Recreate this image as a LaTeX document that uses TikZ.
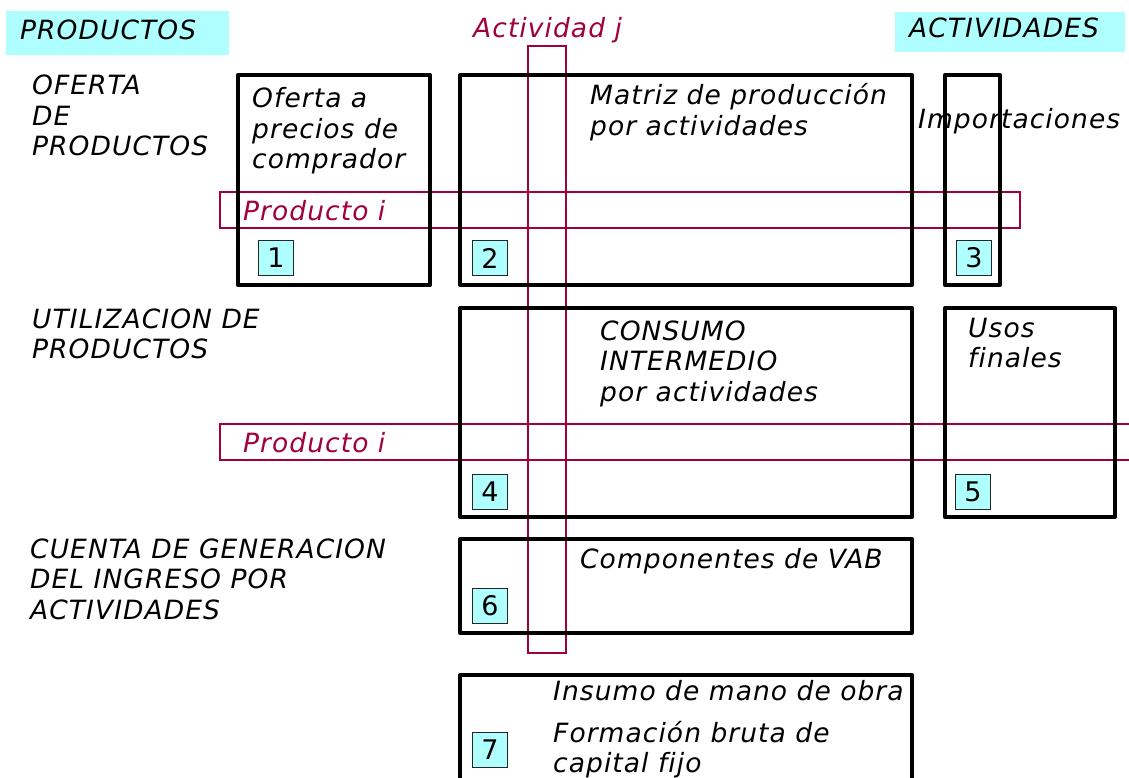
\documentclass[tikz,border=0pt]{standalone}
\usepackage{fontspec}
\setmainfont{DejaVu Sans}[LetterSpace=4,Ligatures={NoCommon}]
\definecolor{lcyan}{RGB}{176,255,255}
\definecolor{crim}{RGB}{160,0,60}
\newcommand\ml[1]{\begin{tabular}[t]{@{}l@{}}#1\end{tabular}}
\begin{document}
\begin{tikzpicture}[x=1pt,y=-1pt,
  every node/.style={inner sep=0pt,anchor=base west,font=\fontsize{26.5}{30.5}\selectfont\itshape},
  blk/.style={draw=black,line width=4pt,line join=round},
  redbox/.style={draw=crim,line width=1.6pt},
  tag/.style={draw=black!85,line width=1.6pt,fill=lcyan,anchor=center,minimum width=35pt,minimum height=35pt,font=\fontsize{27}{30}\selectfont\upshape}]
\useasboundingbox (0,0) rectangle (1129,778);
% headers
\fill[lcyan] (6,11) rectangle (229,55);
\fill[lcyan] (895,12) rectangle (1125,52);
\node (hp) at (20,40) {PRODUCTOS};
\node (ha) at (909,38) {ACTIVIDADES};
\node[text=crim] (aj) at (473,38) {Actividad j};
% red highlight rectangles
\draw[redbox] (528,46) rectangle (566,653);
\draw[redbox] (220,192) rectangle (1020,228);
\draw[redbox] (220,424) rectangle (1140,460);
% black boxes
\draw[blk] (238,75) rectangle (430,285);
\draw[blk] (460,75) rectangle (912,285);
\draw[blk] (945,75) rectangle (1000,285);
\draw[blk] (460,308) rectangle (912,517);
\draw[blk] (945,308) rectangle (1115,517);
\draw[blk] (460,539) rectangle (912,633);
\draw[blk] (460,675) rectangle (912,782);
% left labels
\node (of) at (32,95) {\ml{OFERTA\\DE\\PRODUCTOS}};
\node (ut) at (32,328) {\ml{UTILIZACION DE\\PRODUCTOS}};
\node (cg) at (30,558) {\ml{CUENTA DE GENERACION\\DEL INGRESO POR\\ACTIVIDADES}};
% box texts
\node (t1) at (252,108) {\ml{Oferta a\\precios de\\comprador}};
\node[text=crim] (p1) at (243,220) {Producto i};
\node[text=crim] (p2) at (243,452) {Producto i};
\node (t2) at (590,105) {\ml{Matriz de producción\\por actividades}};
\node (t3) at (918,129) {Importaciones};
\node (t4) at (600,340) {\ml{CONSUMO\\INTERMEDIO\\por actividades}};
\node (t5) at (968,337) {\ml{Usos\\finales}};
\node (t6) at (580,568) {Componentes de VAB};
\node (t7a) at (553,700) {Insumo de mano de obra};
\node (t7b) at (553,742) {\ml{Formación bruta de\\capital fijo}};
% number tags
\node[tag] (n1) at (276,258) {1};
\node[tag] (n2) at (490,258) {2};
\node[tag] (n3) at (974,258) {3};
\node[tag] (n4) at (490,492) {4};
\node[tag] (n5) at (973,492) {5};
\node[tag] (n6) at (490,606) {6};
\node[tag] (n7) at (490,750) {7};
\end{tikzpicture}
\end{document}
